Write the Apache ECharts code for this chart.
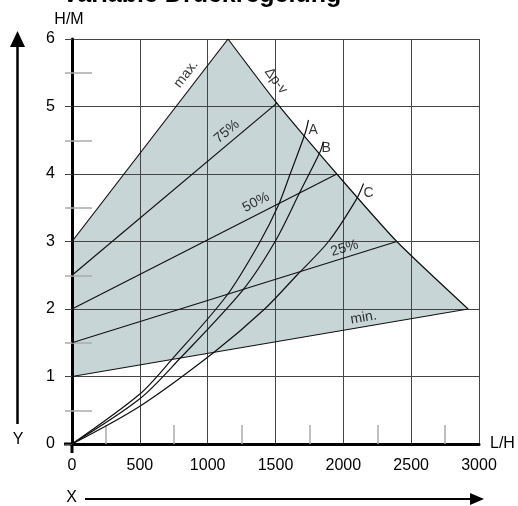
<!DOCTYPE html>
<html><head><meta charset="utf-8">
<script src="https://cdn.jsdelivr.net/npm/echarts@6/dist/echarts.min.js"></script>
<style>html,body{margin:0;padding:0;background:#fff}#c{width:518px;height:506px}</style>
</head><body><div id="c"></div>
<script>
// ---------- data ----------
const chartTitle = 'Variable Druckregelung';
const xTicks = [0, 500, 1000, 1500, 2000, 2500, 3000];
const yTicks = [0, 1, 2, 3, 4, 5, 6];
const xName = 'L/H';
const yName = 'H/M';

const areaX = [0, 0, 1150, 1510, 1952, 2394, 2920];
const areaY = [1, 3, 6, 5.05, 4, 3, 2];

const maxX = [0, 1150];          const maxY = [3, 6];
const dpvX = [1150, 1510, 1952, 2394, 2920]; const dpvY = [6, 5.05, 4, 3, 2];
const p75X = [0, 1510];          const p75Y = [2.5, 5.05];
const p50X = [0, 1952];          const p50Y = [2, 4];
const p25X = [0, 2394];          const p25Y = [1.5, 3];
const minX = [0, 2920];          const minY = [1, 2];

const curveAX = [0, 500, 735, 1141, 1387, 1522, 1608, 1718, 1743];
const curveAY = [0, 0.74, 1.25, 2.2, 3, 3.54, 4, 4.6, 4.8];
const curveBX = [0, 500, 797, 1259, 1497, 1682, 1829, 1853];
const curveBY = [0, 0.67, 1.27, 2.28, 3, 3.74, 4.33, 4.48];
const curveCX = [0, 500, 1047, 1420, 1657, 1891, 2095, 2149];
const curveCY = [0, 0.56, 1.36, 2.0, 2.5, 3.0, 3.62, 3.86];

const annText = ['max.', 'Δp-v', '75%', '50%', '25%', 'min.', 'A', 'B', 'C'];

// ---------- presentation ----------
const annPos = [
  {x: 841, y: 5.48, r: 52}, {x: 1503, y: 5.38, r: -53}, {x: 1141, y: 4.63, r: 40},
  {x: 1357, y: 3.58, r: 27}, {x: 2009, y: 2.90, r: 17}, {x: 2149, y: 1.87, r: 10},
  {x: 1778, y: 4.65, r: 0}, {x: 1874, y: 4.38, r: 0}, {x: 2186, y: 3.72, r: 0}
];
const FONT = 'Liberation Sans, Arial, Helvetica, sans-serif';
const pairs = (xs, ys) => xs.map((x, i) => [x, ys[i]]);
const lineSeries = (xs, ys, smooth) => ({
  type: 'line', data: pairs(xs, ys), symbol: 'none', silent: true,
  smooth: smooth ? smooth : false,
  lineStyle: {color: '#111', width: 1.2}, z: 3, animation: false
});

const chart = echarts.init(document.getElementById('c'), null, {renderer: 'canvas'});
chart.setOption({
  animation: false,
  backgroundColor: '#fff',
  title: {text: chartTitle, left: 62, top: -17, padding: 0,
    textStyle: {fontSize: 25, fontWeight: 'bold', color: '#000', fontFamily: FONT}},
  grid: {left: 72, right: 39, top: 39, bottom: 62, containLabel: false},
  xAxis: {
    type: 'value', min: 0, max: 3000, interval: 500,
    axisLine: {show: true, onZero: false, lineStyle: {color: '#000', width: 3}},
    axisTick: {show: false, inside: true},
    minorTick: {show: true, splitNumber: 2, length: 19, lineStyle: {color: '#aaa', width: 1.5}},
    splitLine: {show: true, lineStyle: {color: '#444', width: 1}},
    axisLabel: {fontSize: 16, color: '#000', margin: 14, fontFamily: FONT,
      formatter: v => xTicks.includes(v) ? String(v) : ''},
    name: xName, nameLocation: 'end', nameGap: 11,
    nameTextStyle: {fontSize: 16, color: '#000', fontFamily: FONT, verticalAlign: 'middle'}
  },
  yAxis: [{
    type: 'value', min: 0, max: 6, interval: 1,
    axisLine: {show: true, lineStyle: {color: '#000', width: 3}},
    axisTick: {show: true, length: 7, lineStyle: {color: '#444', width: 1}},
    minorTick: {show: true, splitNumber: 2, length: 7, lineStyle: {color: '#aaa', width: 1.5}},
    splitLine: {show: true, lineStyle: {color: '#444', width: 1}},
    axisLabel: {fontSize: 16, color: '#000', margin: 17, fontFamily: FONT,
      formatter: v => yTicks.includes(v) ? String(v) : ''},
    name: yName, nameLocation: 'end', nameGap: 11,
    nameTextStyle: {fontSize: 16, color: '#000', fontFamily: FONT, align: 'center', padding: [0, 6, 0, 0]}
  }, {
    type: 'value', min: 0, max: 6, interval: 1, position: 'left', offset: 0,
    axisLine: {show: false}, axisTick: {show: false, inside: true},
    minorTick: {show: true, splitNumber: 2, length: 20, lineStyle: {color: '#aaa', width: 1.5}},
    splitLine: {show: false}, axisLabel: {show: false}
  }],
  series: [
    {
      type: 'custom', coordinateSystem: 'cartesian2d', data: [[0, 0]], z: -1, silent: true,
      renderItem: (params, api) => ({
        type: 'polygon',
        shape: {points: pairs(areaX, areaY).map(p => api.coord(p))},
        style: {fill: '#c8d5d6', stroke: null}
      })
    },
    lineSeries(maxX, maxY), lineSeries(dpvX, dpvY, 0.2),
    lineSeries(p75X, p75Y), lineSeries(p50X, p50Y), lineSeries(p25X, p25Y), lineSeries(minX, minY),
    lineSeries(curveAX, curveAY, 0.3), lineSeries(curveBX, curveBY, 0.3), lineSeries(curveCX, curveCY, 0.3),
    {
      type: 'scatter', symbolSize: 0, silent: true, z: 4,
      data: annText.map((t, i) => ({
        value: [annPos[i].x, annPos[i].y],
        label: {show: true, formatter: t, rotate: annPos[i].r, position: 'inside',
          fontSize: 14, color: '#000', fontFamily: FONT}
      }))
    }
  ]
});

// decorative arrows & axis extensions
const o = chart.convertToPixel({gridIndex: 0}, [0, 0]);
chart.setOption({
  graphic: [
    {type: 'line', shape: {x1: o[0], y1: o[1], x2: o[0], y2: o[1] + 9}, style: {stroke: '#000', lineWidth: 3}},
    {type: 'line', shape: {x1: o[0] - 8, y1: o[1], x2: o[0], y2: o[1]}, style: {stroke: '#000', lineWidth: 3}},
    {type: 'line', shape: {x1: 17.5, y1: 424, x2: 17.5, y2: 44}, style: {stroke: '#000', lineWidth: 2.5}},
    {type: 'polygon', shape: {points: [[10, 47], [25, 47], [17.5, 31]]}, style: {fill: '#000'}},
    {type: 'line', shape: {x1: 85, y1: 499, x2: 472, y2: 499}, style: {stroke: '#000', lineWidth: 1.8}},
    {type: 'polygon', shape: {points: [[470, 493], [470, 505], [484, 499]]}, style: {fill: '#000'}},
    {type: 'text', x: 18, y: 440, style: {text: 'Y', fontSize: 16, fontFamily: FONT, fill: '#000', align: 'center', verticalAlign: 'middle'}},
    {type: 'text', x: 71.5, y: 498, style: {text: 'X', fontSize: 16, fontFamily: FONT, fill: '#000', align: 'center', verticalAlign: 'middle'}}
  ]
});
</script></body></html>
